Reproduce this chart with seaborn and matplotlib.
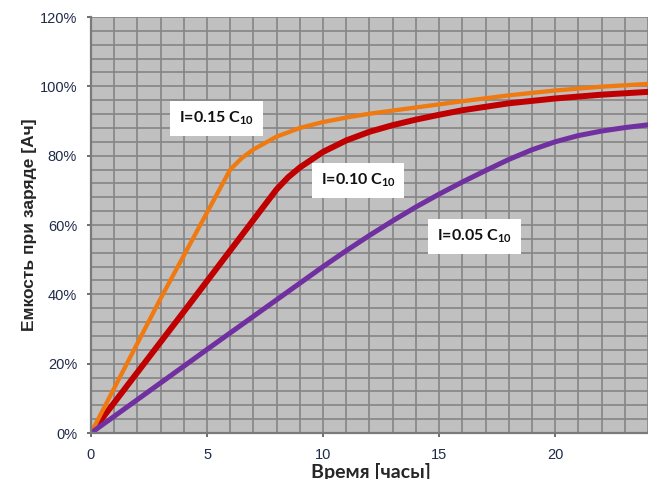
import matplotlib
matplotlib.use("Agg")
import matplotlib.pyplot as plt
import pandas as pd
import seaborn as sns
from matplotlib.ticker import MultipleLocator, PercentFormatter

# charge capacity (% of C) vs time (hours)
hours_015 = [0, 3, 6, 6.5, 7, 8, 9, 10, 11, 12, 13, 14, 15, 16, 18, 20, 22, 24]
cap_015 = [0, 38.8, 76, 79.3, 81.8, 85.5, 88.0, 89.7, 91.0, 92.1, 93.0, 93.9, 94.8, 95.7, 97.4, 98.8, 99.9, 100.7]

hours_010 = [0, 4, 8, 8.5, 9, 10, 11, 12, 13, 14, 15, 16, 18, 20, 22, 24]
cap_010 = [0, 35.0, 70.3, 73.8, 76.6, 81.1, 84.4, 86.9, 88.8, 90.4, 91.8, 93.1, 95.1, 96.5, 97.6, 98.4]

hours_005 = [0, 5, 10, 11, 12, 13, 14, 15, 16, 17, 18, 19, 20, 21, 22, 23, 24]
cap_005 = [0, 24.1, 48.0, 52.6, 57.0, 61.2, 65.2, 68.9, 72.4, 75.7, 78.9, 81.7, 84.0, 85.8, 87.1, 88.1, 88.9]

series_names = ["I=0.10", "I=0.15", "I=0.05"]
label_texts = ["I=0.15 C$_{10}$", "I=0.10 C$_{10}$", "I=0.05 C$_{10}$"]

df = pd.concat([
    pd.DataFrame({"hours": hours_010, "capacity": cap_010, "series": "I=0.10"}),
    pd.DataFrame({"hours": hours_015, "capacity": cap_015, "series": "I=0.15"}),
    pd.DataFrame({"hours": hours_005, "capacity": cap_005, "series": "I=0.05"}),
])

line_styles = {
    "I=0.10": dict(color="#C00000", linewidth=4.3),
    "I=0.15": dict(color="#F07A12", linewidth=3.1),
    "I=0.05": dict(color="#7030A0", linewidth=3.6),
}

sns.set_theme(style="whitegrid", rc={
    "axes.facecolor": "#C0C0C0",
    "grid.color": "#858585",
    "grid.linewidth": 1.2,
    "axes.edgecolor": "#7a7a7a",
    "axes.linewidth": 1.6,
})
plt.rcParams["font.family"] = ["Liberation Sans", "DejaVu Sans"]
plt.rcParams["mathtext.default"] = "regular"

fig = plt.figure(figsize=(6.48, 4.79), dpi=100)
ax = fig.add_axes([0.1404, 0.096, 0.8596, 0.8685])

for name in series_names:
    sub = df[df["series"] == name]
    sns.lineplot(data=sub, x="hours", y="capacity", ax=ax, legend=False,
                 solid_capstyle="round", **line_styles[name])

ax.set_xlim(0, 24)
ax.set_ylim(0, 120)
ax.xaxis.set_major_locator(MultipleLocator(5))
ax.xaxis.set_minor_locator(MultipleLocator(1))
ax.yaxis.set_major_locator(MultipleLocator(20))
ax.yaxis.set_minor_locator(MultipleLocator(4))
ax.yaxis.set_major_formatter(PercentFormatter(decimals=0))
ax.grid(True, which="both", color="#858585", linewidth=1.2)
ax.set_axisbelow(True)

for side in ["top", "right"]:
    ax.spines[side].set_visible(False)

ax.tick_params(axis="both", which="major", length=3, width=1.2, color="#555555",
               labelsize=10.5, labelcolor="#1f2b48")
ax.tick_params(axis="x", which="major", bottom=True, pad=8)
ax.tick_params(axis="y", which="major", left=True, pad=7)
ax.tick_params(which="minor", length=0)

ax.set_xlabel("Время [часы]", fontsize=14, fontweight="bold", family="Lato")
ax.xaxis.set_label_coords(0.502, -0.071)
ax.set_ylabel("Емкость при заряде [Ач]", fontsize=12.5, fontweight="bold")
ax.yaxis.set_label_coords(-0.097, 0.5)

# boxed series labels
label_pos = [(3.79, 90.7), (9.9, 72.8), (14.9, 56.7)]
for text, (x, y) in zip(label_texts, label_pos):
    ax.text(x, y, text, ha="left", va="center", fontsize=11.5, fontweight="bold",
            family="Lato", color="#111111", zorder=5,
            bbox=dict(boxstyle="square,pad=0.55", facecolor="white", edgecolor="none"))

fig.savefig("out.png", dpi=100)
plt.close(fig)
